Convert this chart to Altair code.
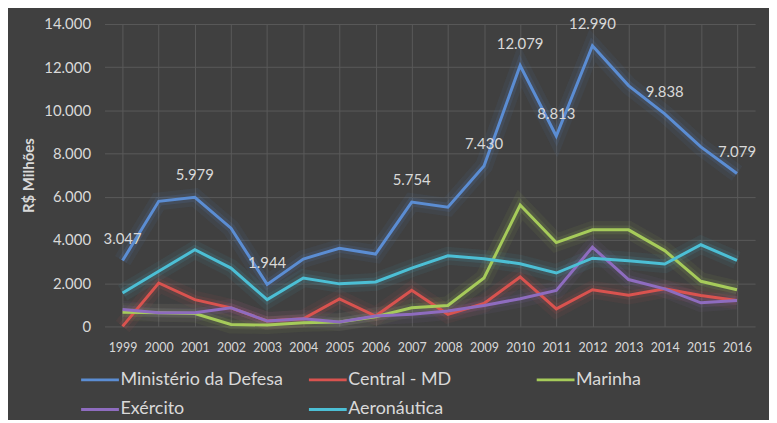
import altair as alt
import pandas as pd

anos = [str(a) for a in range(1999, 2017)]
series = ["Ministério da Defesa", "Central - MD", "Marinha", "Exército", "Aeronáutica"]
cores = ["#5B8DD3", "#D9534F", "#A6CB5A", "#8E6CBF", "#4CBFD5"]

defesa = [3047, 5790, 5979, 4550, 1944, 3120, 3620, 3350, 5754, 5520,
          7430, 12079, 8813, 12990, 11150, 9838, 8310, 7079]
central = [0, 2010, 1240, 860, 250, 350, 1270, 480, 1670, 560,
           1060, 2290, 810, 1700, 1440, 1740, 1430, 1200]
marinha = [660, 630, 600, 90, 60, 170, 200, 450, 860, 970,
           2240, 5620, 3880, 4470, 4470, 3510, 2090, 1700]
exercito = [780, 630, 630, 860, 250, 350, 200, 480, 560, 710,
            970, 1280, 1670, 3670, 2170, 1740, 1090, 1200]
aeronautica = [1550, 2550, 3550, 2700, 1240, 2240, 1970, 2060, 2700, 3270,
               3130, 2900, 2470, 3160, 3040, 2890, 3780, 3060]

# anos com rótulo na série do Ministério da Defesa
anos_rotulo = ["1999", "2001", "2003", "2007", "2009", "2010", "2011", "2012", "2014", "2016"]

valores = [defesa, central, marinha, exercito, aeronautica]
linhas = []
for nome, vals in zip(series, valores):
    for ano, v in zip(anos, vals):
        linhas.append({"Ano": ano, "Serie": nome, "Valor": v})
df = pd.DataFrame(linhas)

rot = df[(df["Serie"] == "Ministério da Defesa") & (df["Ano"].isin(anos_rotulo))]

fonte = "Lato"
texto = "#D9D9D9"

x = alt.X("Ano:O", title=None, scale=alt.Scale(paddingInner=0, paddingOuter=0.5),
          axis=alt.Axis(labelAngle=0, labelColor=texto, labelFont=fonte, labelFontSize=12.5,
                        labelPadding=15, ticks=False, domain=False, grid=True,
                        gridColor="#5A5A5A", bandPosition=0))
y = alt.Y("Valor:Q", title="R$ Milhões", scale=alt.Scale(domain=[0, 14000]),
          axis=alt.Axis(values=list(range(0, 14001, 2000)),
                        labelExpr="replace(format(datum.value, ','), ',', '.')",
                        labelColor=texto, labelFont=fonte, labelFontSize=15, labelPadding=14,
                        ticks=False, domain=False, gridColor="#5A5A5A",
                        titleColor=texto, titleFont=fonte, titleFontSize=15,
                        titleFontWeight="bold", titlePadding=7))
legenda = alt.Legend(title=None, orient="none", legendX=-25, legendY=337,
                     direction="horizontal", columns=3, gridAlign="all",
                     columnPadding=19, rowPadding=-23,
                     symbolType="stroke", symbolSize=1444, symbolStrokeWidth=3,
                     symbolOpacity=1,
                     labelColor=texto, labelFont=fonte, labelFontSize=18,
                     labelOffset=0, labelLimit=300)
cor = alt.Color("Serie:N", sort=series, scale=alt.Scale(domain=series, range=cores),
                legend=legenda)

base = alt.Chart(df)

# brilho em volta das linhas
brilho1 = base.mark_line(strokeWidth=18, opacity=0.07).encode(x=x, y=y, color=cor)
brilho2 = base.mark_line(strokeWidth=9, opacity=0.12).encode(x=x, y=y, color=cor)
linha = base.mark_line(strokeWidth=3).encode(x=x, y=y, color=cor)

rotulos = alt.Chart(rot).transform_calculate(
    Rotulo="replace(format(datum.Valor, ','), ',', '.')"
).mark_text(dy=-22, font=fonte, fontSize=15, color=texto).encode(
    x=x, y=y, text="Rotulo:N")

chart = alt.layer(brilho1, brilho2, linha, rotulos).properties(
    width=654, height=304,
    autosize=alt.AutoSizeParams(type="none"),
    padding={"left": 97, "top": 15, "right": 14, "bottom": 93},
    background="#404040",
).configure_view(stroke=None)

chart.save("out.html", embed_options={"renderer": "svg", "actions": False})
